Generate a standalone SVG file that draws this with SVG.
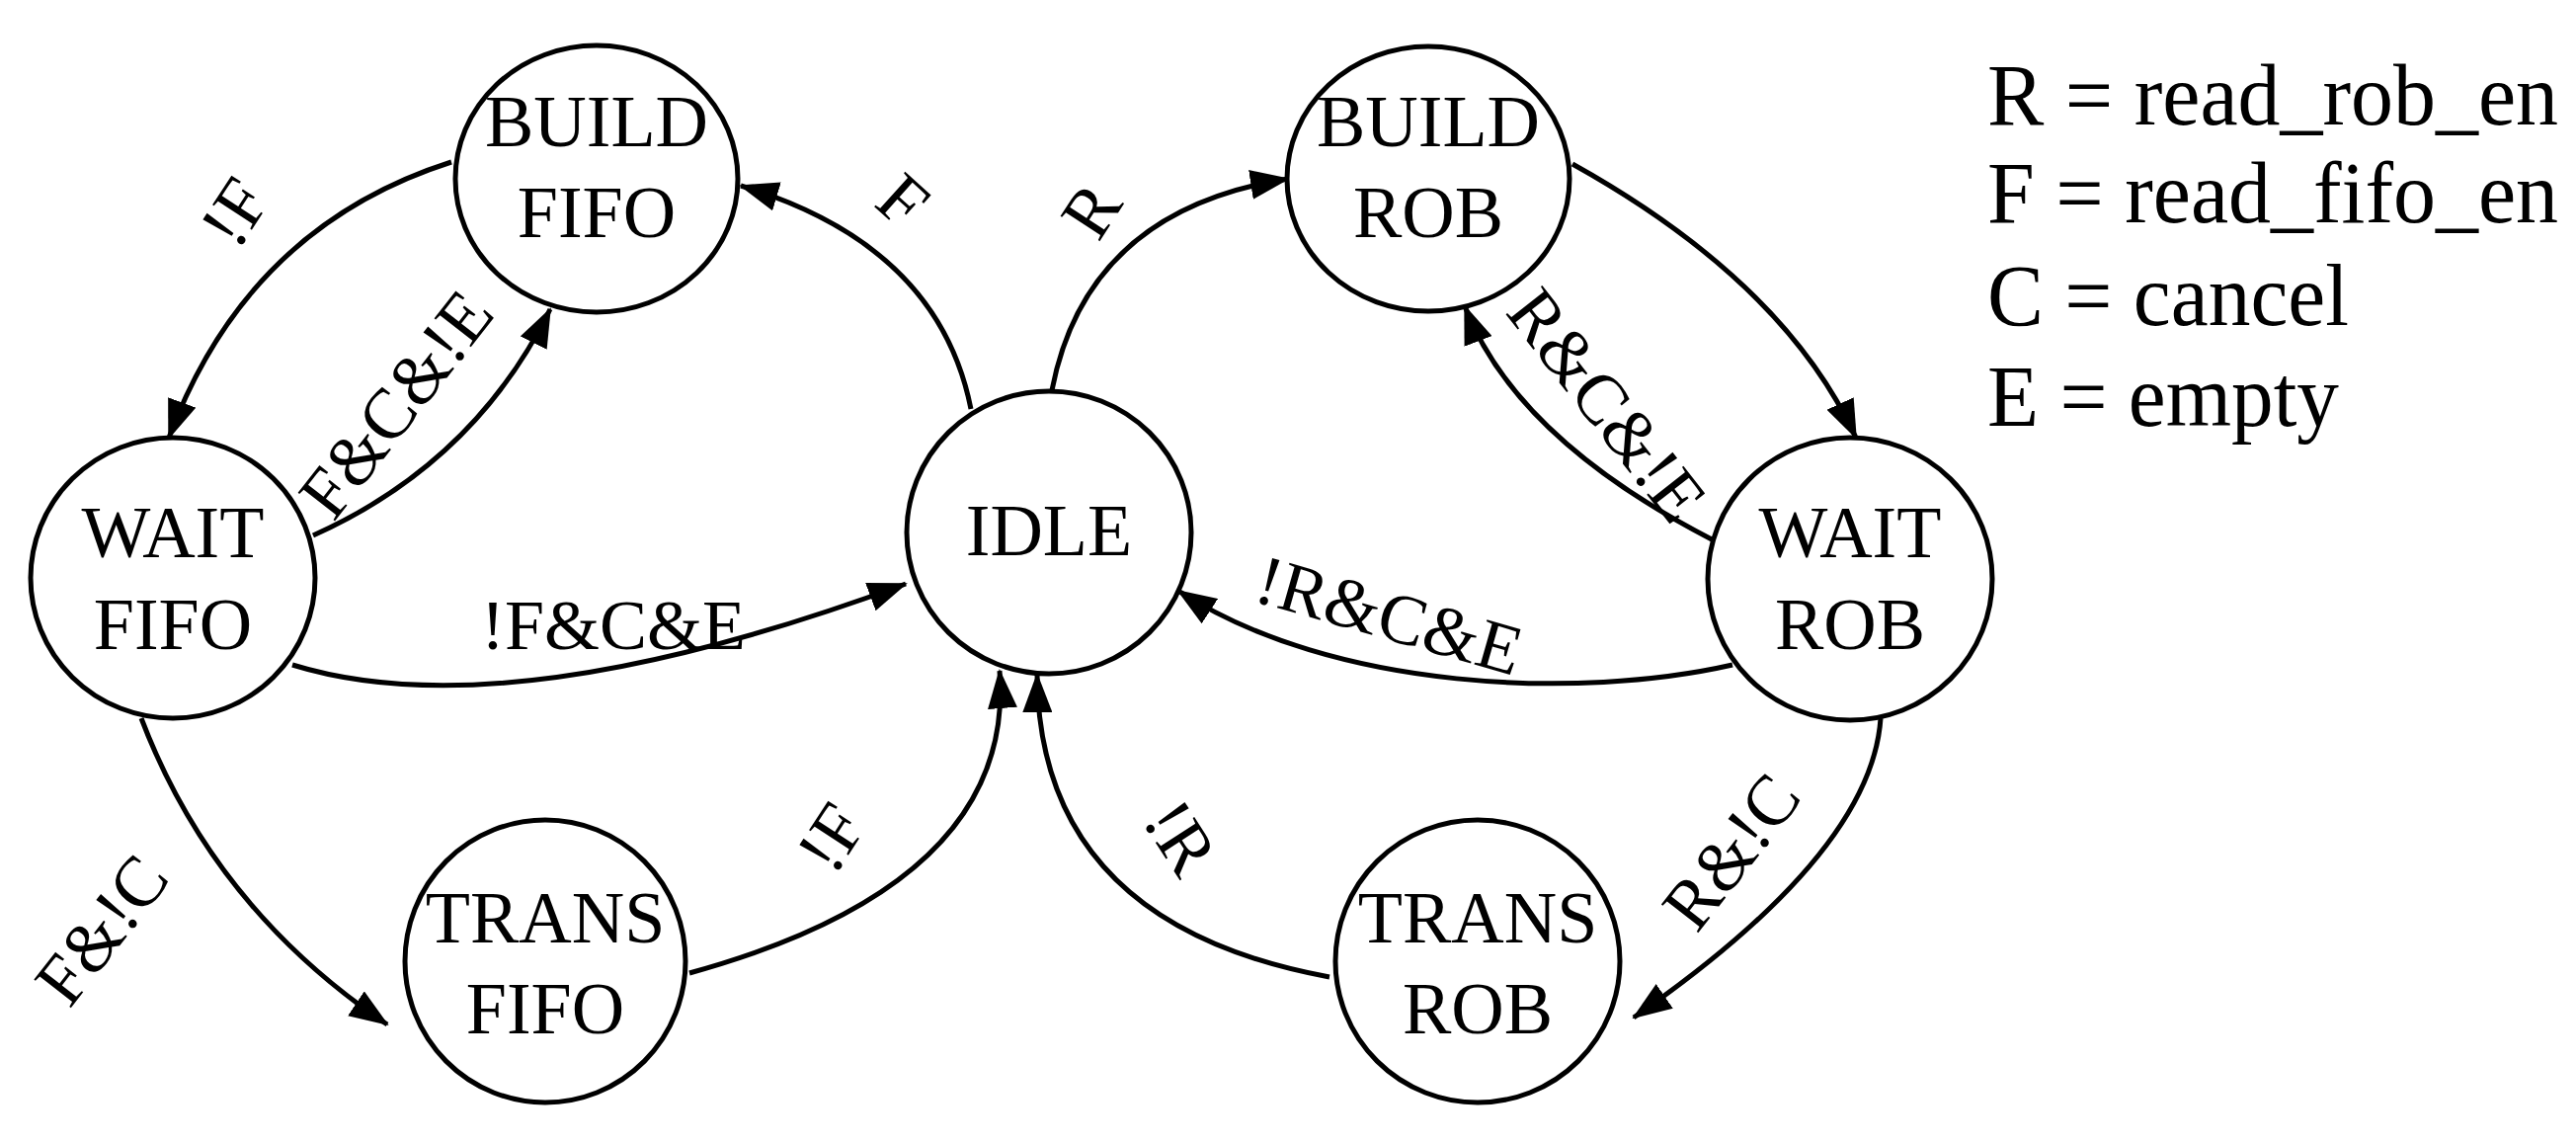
<svg xmlns="http://www.w3.org/2000/svg" width="2608" height="1157" viewBox="0 0 2608 1157">
<style>
.n{fill:#fff;stroke:#000;stroke-width:5}
.t{font-family:"Liberation Serif",serif;font-size:74px;text-anchor:middle;fill:#000}
.l{font-family:"Liberation Serif",serif;font-size:72px;text-anchor:middle;fill:#000}
.g{font-family:"Liberation Serif",serif;font-size:88px;fill:#000}
.e{fill:none;stroke:#000;stroke-width:5;marker-end:url(#a)}
</style>
<defs>
<marker id="a" markerUnits="userSpaceOnUse" markerWidth="40" markerHeight="30" refX="38" refY="15" orient="auto">
<path d="M0,0 L40,15 L0,30 Z" fill="#000"/>
</marker>
</defs>
<g id="edges">
<path class="e" d="M457,164 Q250,230 171,443"/>
<path class="e" d="M317,542 Q480,469 557,313"/>
<path class="e" d="M983,414 Q950,248 750,188"/>
<path class="e" d="M1065,395 Q1100,213 1304,181"/>
<path class="e" d="M296,673 Q513,740 917,591"/>
<path class="e" d="M143,727 Q216,919 392,1037"/>
<path class="e" d="M698,985 Q1029,894 1012,679"/>
<path class="e" d="M1346,989 Q1052,935 1050,683"/>
<path class="e" d="M1592,166 Q1806,285 1879,443"/>
<path class="e" d="M1733,546 Q1534,443 1483,310"/>
<path class="e" d="M1754,673 C1600,708 1350,700 1193,598"/>
<path class="e" d="M1904,727 Q1895,863 1654,1030"/>
</g>
<g id="labels">
<text class="l" transform="translate(258,228) rotate(-57)">!F</text>
<text class="l" transform="translate(420,424) rotate(-52)">F&amp;C&amp;!E</text>
<text class="l" transform="translate(898,221) rotate(42)">F</text>
<text class="l" transform="translate(1125,226) rotate(-57)">R</text>
<text class="l" x="621" y="657">!F&amp;C&amp;E</text>
<text class="l" transform="translate(122,956) rotate(-52)">F&amp;!C</text>
<text class="l" transform="translate(862,861) rotate(-57)">!F</text>
<text class="l" transform="translate(1175,861) rotate(57)">!R</text>
<text class="l" transform="translate(1608,425) rotate(52)">R&amp;C&amp;!E</text>
<text class="l" transform="translate(1400,646) rotate(16)">!R&amp;C&amp;E</text>
<text class="l" transform="translate(1772,877) rotate(-52)">R&amp;!C</text>
</g>
<g id="build_fifo"><ellipse class="n" cx="604" cy="181" rx="143" ry="135"/><text class="t" x="604" y="148">BUILD</text><text class="t" x="604" y="240">FIFO</text></g>
<g id="wait_fifo"><ellipse class="n" cx="175" cy="585" rx="144" ry="142"/><text class="t" x="175" y="564">WAIT</text><text class="t" x="175" y="657">FIFO</text></g>
<g id="idle"><ellipse class="n" cx="1062" cy="539" rx="144" ry="143"/><text class="t" x="1062" y="562">IDLE</text></g>
<g id="trans_fifo"><ellipse class="n" cx="552" cy="973" rx="142" ry="143"/><text class="t" x="552" y="954">TRANS</text><text class="t" x="552" y="1046">FIFO</text></g>
<g id="build_rob"><ellipse class="n" cx="1446" cy="181" rx="143" ry="134"/><text class="t" x="1446" y="148">BUILD</text><text class="t" x="1446" y="240">ROB</text></g>
<g id="wait_rob"><ellipse class="n" cx="1873" cy="586" rx="144" ry="143"/><text class="t" x="1873" y="564">WAIT</text><text class="t" x="1873" y="657">ROB</text></g>
<g id="trans_rob"><ellipse class="n" cx="1496" cy="973" rx="144" ry="143"/><text class="t" x="1496" y="954">TRANS</text><text class="t" x="1496" y="1046">ROB</text></g>
<g id="legend">
<text class="g" x="2012" y="126" textLength="578" lengthAdjust="spacingAndGlyphs">R = read_rob_en</text>
<text class="g" x="2012" y="225" textLength="578" lengthAdjust="spacingAndGlyphs">F = read_fifo_en</text>
<text class="g" x="2012" y="329" textLength="366" lengthAdjust="spacingAndGlyphs">C = cancel</text>
<text class="g" x="2012" y="431" textLength="356" lengthAdjust="spacingAndGlyphs">E = empty</text>
</g>
</svg>
